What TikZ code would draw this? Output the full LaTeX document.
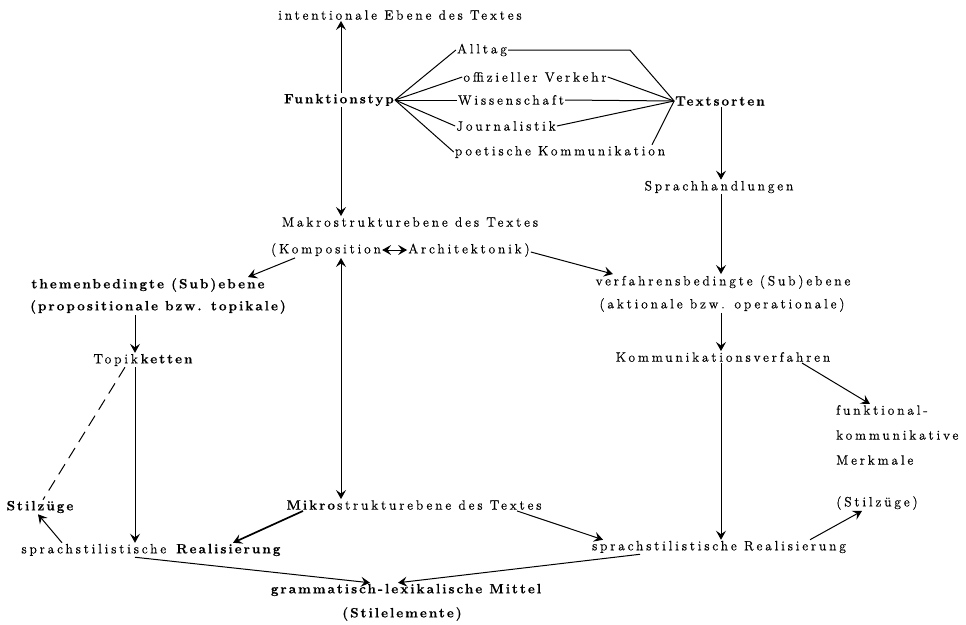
\documentclass[tikz,border=0pt]{standalone}
\usepackage{fontspec}
\newfontfamily\dfont{lmroman12-regular}[Extension=.otf, BoldFont=lmroman12-bold, UprightFeatures={FakeBold=0.5, LetterSpace=21}, BoldFeatures={FakeBold=0.6, LetterSpace=15}]
\usetikzlibrary{arrows.meta}
\tikzset{
  lbl/.style={inner sep=1pt, font=\fontsize{13.5}{15}\dfont},
  lbb/.style={inner sep=1pt, font=\fontsize{13.5}{15}\dfont\bfseries},
  ln/.style={line width=1pt},
  tip/.style={},
  arr/.style={ln, -{Stealth[length=9pt,width=10pt,inset=3.5pt]}},
  darr/.style={ln, {Stealth[length=9pt,width=10pt,inset=3.5pt]}-{Stealth[length=9pt,width=10pt,inset=3.5pt]}},
}
\begin{document}
\begin{tikzpicture}[x=1pt,y=-1pt]
\useasboundingbox (0,0) rectangle (966,624);
\coordinate (colx) at (341,0);
\coordinate (lcol) at (135,0);
\coordinate (rcol) at (721,0);
\coordinate (akink) at (630,50);

\node[lbl] (intent) at (400,15) {intentionale Ebene des Textes};
\node[lbb] (funk) at (339,100) {Funktionstyp};
\node[lbl] (alltag) at (482,50) {Alltag};
\node[lbl] (offiz) at (535,77) {offizieller Verkehr};
\node[lbl] (wiss) at (511,100) {Wissenschaft};
\node[lbl] (journ) at (506,126) {Journalistik};
\node[lbl] (poet) at (560,152) {poetische Kommunikation};
\node[lbb] (tsorten) at (720,101) {Textsorten};
\node[lbl] (sprachh) at (719,187) {Sprachhandlungen};
\node[lbl] (makro) at (410,222) {Makrostrukturebene des Textes};
\node[lbl] (komp) at (326,250) {(Komposition};
\node[lbl] (arch) at (469,250) {Architektonik)};
\node[lbb] (themen1) at (148,285) {themenbedingte (Sub)ebene};
\node[lbb] (themen2) at (158,307) {(propositionale bzw. topikale)};
\node[lbl] (verf1) at (723,282) {verfahrensbedingte (Sub)ebene};
\node[lbl] (verf2) at (722,305) {(aktionale bzw. operationale)};
\node[lbl] (topik) at (144,360) {Topik\textbf{ketten}};
\node[lbl] (komm) at (723,357) {Kommunikationsverfahren};
\node[lbl, anchor=west] (funkt1) at (835,410) {funktional-};
\node[lbl, anchor=west] (funkt2) at (835,435) {kommunikative};
\node[lbl, anchor=west] (funkt3) at (835,460) {Merkmale};
\node[lbb] (stil) at (40,507) {Stilzüge};
\node[lbl] (mikro) at (414,505) {\textbf{Mikro}strukturebene des Textes};
\node[lbl] (stilr) at (877,503) {(Stilzüge)};
\node[lbl] (sprL) at (152,550) {sprachstilistische \textbf{Realisierung}};
\node[lbl] (sprR) at (719,547) {sprachstilistische Realisierung};
\node[lbb] (gram) at (406,590) {grammatisch-lexikalische Mittel};
\node[lbb] (stilel) at (402,614) {(Stilelemente)};

% central column
\draw[arr] (funk.north -| colx) -- (intent.south -| colx);
\draw[arr] (funk.south -| colx) -- (makro.north -| colx);
\draw[darr] (komp.south -| colx) -- (mikro.north -| colx);
\draw[darr] (komp.east) -- (arch.west);

% Funktionstyp fan
\draw[ln] (funk.east) -- (alltag.west);
\draw[ln] (funk.east) -- (offiz.west);
\draw[ln] (funk.east) -- (wiss.west);
\draw[ln] (funk.east) -- (journ.west);
\draw[ln] (funk.east) -- (poet.west);
% to Textsorten
\draw[ln] (alltag.east) -- (akink) -- (tsorten.west);
\draw[ln] (offiz.east) -- (tsorten.west);
\draw[ln] (wiss.east) -- (tsorten.west);
\draw[ln] (journ.east) -- (tsorten.west);
\draw[ln] ([xshift=92]poet.north) -- (tsorten.west);

% right column
\draw[arr] (tsorten.south -| rcol) -- (sprachh.north -| rcol);
\draw[arr] (sprachh.south -| rcol) -- (verf1.north -| rcol);
\draw[arr] (verf2.south -| rcol) -- (komm.north -| rcol);
\draw[arr] (komm.south -| rcol) -- (sprR.north -| rcol);
\draw[arr] ([xshift=79]komm.south) -- ([xshift=35]funkt1.north west);

% Makro branches
\draw[arr] ([xshift=-31]komp.south) -- ([xshift=100]themen1.north);
\draw[arr] ([yshift=-2]arch.east) -- ([xshift=-110]verf1.north);

% left column
\draw[arr] (themen2.south -| lcol) -- (topik.north -| lcol);
\draw[arr] (topik.south -| lcol) -- (sprL.north -| lcol);
\draw[ln, dash pattern=on 12pt off 7pt] ([xshift=-19]topik.south) -- ([xshift=3]stil.north);
\draw[arr] ([xshift=-90]sprL.north) -- ([xshift=-2]stil.south);

% Mikro
\draw[arr, line width=1.7pt] ([xshift=-111]mikro.south) -- ([xshift=81]sprL.north);
\draw[arr] ([xshift=103]mikro.south) -- ([xshift=-116]sprR.north);
\draw[arr] ([xshift=91]sprR.north) -- ([xshift=-15]stilr.south);

% to grammatisch-lexikalische Mittel
\draw[arr] (sprL.south -| lcol) -- ([xshift=-36]gram.north);
\draw[arr] ([xshift=-79]sprR.south) -- ([xshift=-8]gram.north);
\end{tikzpicture}
\end{document}
